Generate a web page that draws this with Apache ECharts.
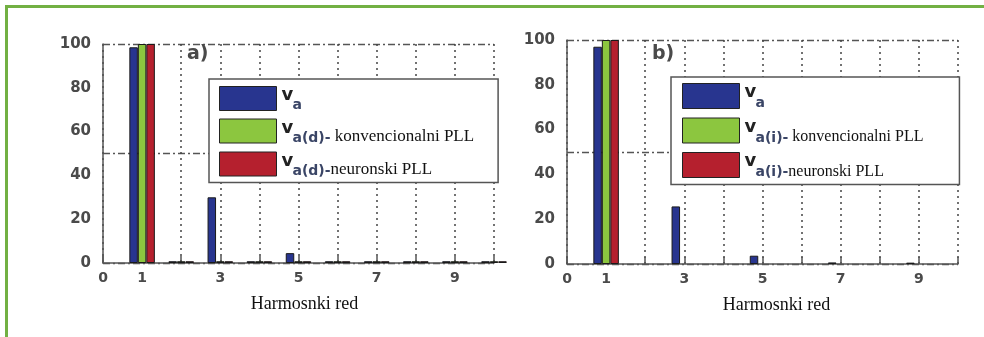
<!DOCTYPE html>
<html>
<head>
<meta charset="utf-8">
<script src="https://cdn.jsdelivr.net/npm/echarts@6/dist/echarts.min.js"></script>
<style>
  html, body { margin: 0; padding: 0; background: #ffffff; }
  #frame { position: absolute; left: 5px; top: 5px; width: 990px; height: 340px;
           border-left: 3px solid #72b043; border-top: 3px solid #72b043; }
  #chart { position: absolute; left: 0; top: 0; width: 984px; height: 337px; }
</style>
</head>
<body>
<div id="frame"></div>
<div id="chart"></div>
<script>
// Harmonic orders on the horizontal axis
const harmonics = [1, 2, 3, 4, 5, 6, 7, 8, 9, 10];
const xTickLabels = [0, 1, 3, 5, 7, 9];

// Panel a) — direct-axis component, amplitude in % of fundamental
const vaA      = [98.5, 0.8, 30, 0.8, 4.5, 0.8, 0.8, 0.8, 0.8, 0.8];
const konvA    = [100, 0.8, 0.8, 0.8, 0.8, 0.8, 0.8, 0.8, 0.8, 0.8];
const neurA    = [100, 0.8, 0.8, 0.8, 0.8, 0.8, 0.8, 0.8, 0.8, 0.8];

// Panel b) — inverse-axis component
const vaB      = [97, 0, 25.7, 0, 3.7, 0, 0.7, 0, 0.6, 0];
const konvB    = [100, 0, 0, 0, 0, 0, 0, 0, 0, 0];
const neurB    = [100, 0, 0, 0, 0, 0, 0, 0, 0, 0];

// Legend entries: subscript part and trailing description
const namesA = ['v a', 'v a(d)- konvencionalni PLL', 'v a(d)-neuronski PLL'];
const subsA  = ['a', 'a(d)-', 'a(d)-'];
const textsA = ['', ' konvencionalni PLL', 'neuronski PLL'];
const namesB = ['v a', 'v a(i)- konvencionalni PLL', 'v a(i)-neuronski PLL'];
const subsB  = ['a', 'a(i)-', 'a(i)-'];
const textsB = ['', ' konvencionalni PLL', 'neuronski PLL'];

const colors = ['#28358f', '#8cc63f', '#b5202e'];
const axisGray = '#555555';
const labelGray = '#4a4a4a';

// Zero-height bars carry no outline so the axis stays clean
function pairs(values) {
  return harmonics.map((h, i) => values[i] === 0
    ? { value: [h, 0], itemStyle: { borderWidth: 0 } }
    : [h, values[i]]);
}

function xAxisFor(gridIndex, namePad) {
  return {
    gridIndex, type: 'value', min: 0, max: 10, interval: 1,
    name: 'Harmosnki red', nameLocation: 'middle', nameGap: 32,
    nameTextStyle: { fontFamily: 'Liberation Serif', fontSize: 18, color: '#111', padding: [0, 0, 0, namePad] },
    axisLine: { lineStyle: { color: axisGray, width: 1.5 } },
    axisTick: { inside: true, length: 7, lineStyle: { color: axisGray, width: 1.5 } },
    axisLabel: {
      margin: 8, fontFamily: 'DejaVu Sans', fontWeight: 'bold', fontSize: 14, color: labelGray,
      formatter: v => xTickLabels.includes(v) ? String(v) : ''
    },
    splitLine: { show: true, lineStyle: { color: '#444', width: 1.5, type: [2, 4] } }
  };
}

function yAxesFor(gridIndex) {
  return [{
    gridIndex, type: 'value', min: 0, max: 100, interval: 20,
    axisLine: { show: true, lineStyle: { color: axisGray, width: 1.5 } },
    axisTick: { show: false },
    axisLabel: { margin: 12, fontFamily: 'DejaVu Sans', fontWeight: 'bold', fontSize: 15, color: labelGray },
    splitLine: { show: false }
  }, {
    gridIndex, type: 'value', min: 0, max: 100, interval: 50,
    axisLine: { show: false }, axisTick: { show: false }, axisLabel: { show: false },
    splitLine: { show: true, lineStyle: { color: axisGray, width: 1.3, type: [7, 3, 2, 3] } }
  }];
}

function richFor(rowH, textSize) {
  return {
    v: { fontFamily: 'DejaVu Sans', fontWeight: 'bold', fontSize: 18, color: '#222',
         height: 18, lineHeight: rowH, verticalAlign: 'top', width: 11 },
    s: { fontFamily: 'DejaVu Sans', fontWeight: 'bold', fontSize: 14, color: '#3a4566',
         height: 10, lineHeight: rowH, verticalAlign: 'bottom' },
    t: { fontFamily: 'Liberation Serif', fontSize: textSize, color: '#111',
         height: 12, lineHeight: rowH, verticalAlign: 'bottom' }
  };
}

function legendFor(names, subs, texts, pos) {
  return {
    data: names, orient: 'vertical', left: pos.left, top: pos.top,
    padding: pos.padding, itemGap: pos.gap, itemWidth: 57, itemHeight: pos.rowH,
    icon: 'rect', selectedMode: false,
    backgroundColor: '#ffffff', borderColor: axisGray, borderWidth: 1.5,
    itemStyle: { borderColor: '#222', borderWidth: 1 },
    textStyle: { rich: richFor(pos.rowH, pos.textSize) },
    formatter: name => {
      const i = names.indexOf(name);
      return '{v|v}{s|' + subs[i] + '}' + (texts[i] ? '{t|' + texts[i] + '}' : '');
    }
  };
}

function barSeries(name, values, color, axisIndex) {
  return {
    type: 'bar', name, data: pairs(values),
    xAxisIndex: axisIndex, yAxisIndex: axisIndex * 2,
    barWidth: 8.5, barGap: '0%', clip: true,
    itemStyle: { color, borderColor: '#1a1a1a', borderWidth: 1 }
  };
}

const chart = echarts.init(document.getElementById('chart'), null, { renderer: 'canvas' });
chart.setOption({
  animation: false,
  backgroundColor: 'transparent',
  title: [
    { text: 'a)', left: 187, top: 45, padding: 0,
      textStyle: { fontFamily: 'DejaVu Sans', fontWeight: 'bold', fontSize: 19, color: '#4a4a4a' } },
    { text: 'b)', left: 652, top: 45, padding: 0,
      textStyle: { fontFamily: 'DejaVu Sans', fontWeight: 'bold', fontSize: 19, color: '#4a4a4a' } }
  ],
  grid: [
    { left: 103, top: 44, width: 391, height: 219 },
    { left: 567, top: 40, width: 391, height: 224 }
  ],
  xAxis: [xAxisFor(0, 12), xAxisFor(1, 28)],
  yAxis: [...yAxesFor(0), ...yAxesFor(1)],
  legend: [
    legendFor(namesA, subsA, textsA, { left: 209, top: 79, padding: [7, 24, 4, 10], gap: 6, rowH: 24, textSize: 17 }),
    legendFor(namesB, subsB, textsB, { left: 671, top: 77, padding: [6, 36, 5, 11], gap: 7, rowH: 25, textSize: 16 })
  ],
  series: [
    barSeries(namesA[0], vaA, colors[0], 0),
    barSeries(namesA[1], konvA, colors[1], 0),
    barSeries(namesA[2], neurA, colors[2], 0),
    barSeries(namesB[0], vaB, colors[0], 1),
    barSeries(namesB[1], konvB, colors[1], 1),
    barSeries(namesB[2], neurB, colors[2], 1)
  ]
});
</script>
</body>
</html>
